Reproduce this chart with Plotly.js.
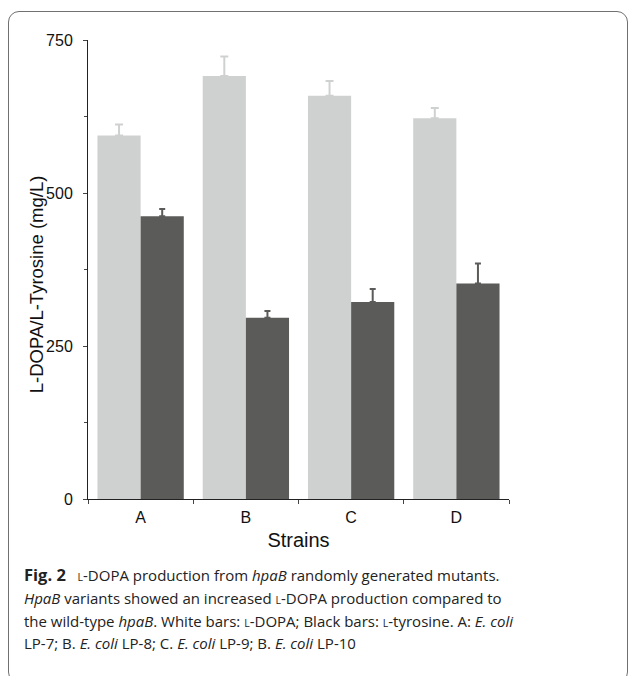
<!DOCTYPE html>
<html>
<head>
<meta charset="utf-8">
<script src="https://cdn.plot.ly/plotly-3.0.1.min.js"></script>
<style>
  html, body { margin: 0; padding: 0; background: #ffffff; overflow: hidden; }
  #frame { position: absolute; left: 8px; top: 11px; width: 620px; height: 672px;
           border: 1.5px solid #707070; border-radius: 11px; box-sizing: border-box; }
  #chart { position: absolute; left: 0; top: 0; width: 629px; height: 676px; }
</style>
</head>
<body>
<div id="frame"></div>
<div id="chart"></div>
<script>
// Data
const strains = ["A", "B", "C", "D"];
const ldopa = [594, 691, 659, 622];
const ldopaErr = [18, 32, 24, 17];
const tyrosine = [462, 296, 322, 352];
const tyrosineErr = [12, 11, 21, 33];
const yTickVals = [0, 250, 500, 750];
const yMinorVals = [125, 375, 625];
const yTitle = "L-DOPA/L-Tyrosine (mg/L)";
const xTitle = "Strains";

const lightColor = "#cfd1d0";
const darkColor = "#5b5b59";

const traces = [
  {
    type: "bar", name: "L-DOPA", x: strains, y: ldopa,
    marker: { color: lightColor, line: { width: 0 } },
    error_y: { type: "data", symmetric: false, array: ldopaErr,
               arrayminus: ldopa.map(() => 0), color: lightColor, thickness: 2, width: 4 }
  },
  {
    type: "bar", name: "L-Tyrosine", x: strains, y: tyrosine,
    marker: { color: darkColor, line: { width: 0 } },
    error_y: { type: "data", symmetric: false, array: tyrosineErr,
               arrayminus: tyrosine.map(() => 0), color: darkColor, thickness: 2, width: 3 }
  }
];

const sc = (t) => '<span style="font-size:10.5px">' + t + '</span>';
const captionLines = [
  '<span style="font-size:16.5px"><b>Fig. 2</b></span>   ' + sc('L') + '-DOPA production from <i>hpaB</i> randomly generated mutants.',
  '<i>HpaB</i> variants showed an increased ' + sc('L') + '-DOPA production compared to',
  'the wild-type <i>hpaB</i>. White bars: ' + sc('L') + '-DOPA; Black bars: ' + sc('L') + '-tyrosine. A: <i>E. coli</i>',
  'LP-7; B. <i>E. coli</i> LP-8; C. <i>E. coli</i> LP-9; B. <i>E. coli</i> LP-10'
];

// plot area geometry (pixels)
const mT = 39.5, mB = 177, mL = 88, mR = 120, H = 676, W = 629;
const plotH = H - mT - mB, plotW = W - mL - mR;
const px2paperY = (py) => (H - mB - py) / plotH;
const px2paperX = (px) => (px - mL) / plotW;
const lineY = [575, 598, 621, 643];

const annotations = captionLines.map((t, i) => ({
  xref: "paper", yref: "paper", x: px2paperX(22), y: px2paperY(lineY[i]),
  xanchor: "left", yanchor: "middle", align: "left", showarrow: false, text: t,
  font: { family: "Open Sans, Noto Sans, sans-serif", size: 15, color: "#222222" }
}));

annotations.push({
  xref: "paper", yref: "paper", x: px2paperX(36), y: px2paperY(284),
  xanchor: "center", yanchor: "middle", textangle: -90, showarrow: false, text: yTitle,
  font: { family: "Liberation Sans, Arial, sans-serif", size: 18.5, color: "#111111" }
});

const layout = {
  width: W, height: H,
  margin: { l: mL, r: mR, t: mT, b: mB },
  paper_bgcolor: "rgba(0,0,0,0)", plot_bgcolor: "rgba(0,0,0,0)",
  showlegend: false,
  barmode: "group", bargap: 0.18, bargroupgap: 0,
  font: { family: "Liberation Sans, Arial, sans-serif", color: "#111111" },
  xaxis: {
    type: "category", showline: true, linecolor: "#222222", linewidth: 1,
    ticks: "outside", tickson: "boundaries", ticklen: 4, tickcolor: "#444444",
    tickfont: { size: 16, family: "Liberation Sans, Arial, sans-serif" },
    ticklabelstandoff: 4,
    title: { text: xTitle, font: { size: 20 }, standoff: 7 },
    showgrid: false, zeroline: false
  },
  yaxis: {
    range: [0, 750], showline: true, linecolor: "#222222", linewidth: 1,
    tickvals: yTickVals, ticktext: yTickVals.map(String),
    ticks: "outside", ticklen: 4, tickcolor: "#444444",
    minor: { tickvals: yMinorVals, ticks: "outside", ticklen: 3, tickcolor: "#444444" },
    tickfont: { size: 16, family: "Liberation Sans, Arial, sans-serif" },
    ticklabelstandoff: 7,
    showgrid: false, zeroline: false
  },
  annotations: annotations
};

Plotly.newPlot("chart", traces, layout, { displayModeBar: false, staticPlot: true });
</script>
</body>
</html>
